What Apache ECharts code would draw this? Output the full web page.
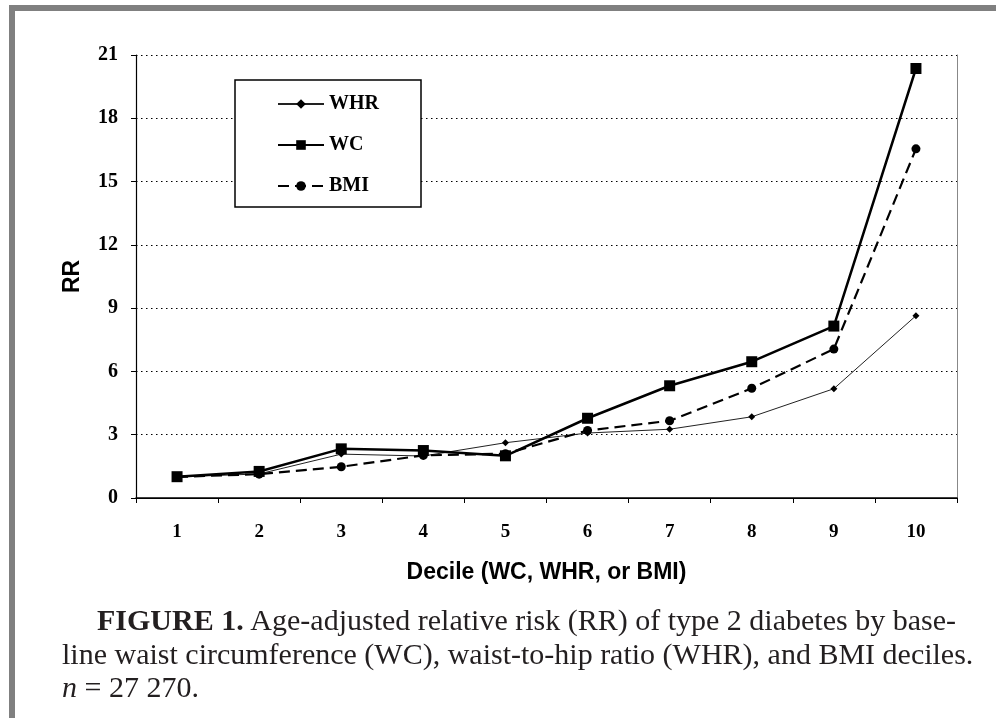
<!DOCTYPE html>
<html>
<head>
<meta charset="utf-8">
<script src="https://cdn.jsdelivr.net/npm/echarts@6/dist/echarts.min.js"></script>
<style>
html,body{margin:0;padding:0;background:#fff;}
#chart{width:996px;height:718px;}
</style>
</head>
<body>
<div id="chart"></div>
<script>
// ---- data ----
const deciles = ['1','2','3','4','5','6','7','8','9','10'];
const whrRR = [1.0, 1.14, 2.08, 1.99, 2.62, 3.08, 3.26, 3.85, 5.18, 8.64];
const wcRR  = [1.01, 1.26, 2.33, 2.25, 2.0, 3.78, 5.32, 6.46, 8.15, 20.36];
const bmiRR = [1.0, 1.13, 1.48, 2.02, 2.1, 3.2, 3.66, 5.2, 7.06, 16.55];
const yMin = 0, yMax = 21, yStep = 3;
const seriesNames = ['WHR', 'WC', 'BMI'];
const xTitle = 'Decile (WC, WHR, or BMI)';
const yTitle = 'RR';
const captionBold = 'FIGURE 1.';
const captionLine1 = 'Age-adjusted relative risk (RR) of type 2 diabetes by base-';
const captionLine2 = 'line waist circumference (WC), waist-to-hip ratio (WHR), and BMI deciles.';
const captionLine3 = '27 270.';

const chart = echarts.init(document.getElementById('chart'), null, {renderer: 'canvas'});
const serifBold = {fontFamily: 'Liberation Serif', fontWeight: 'bold', color: '#000'};
const capFont = 30;
const capColor = '#231f20';

const option = {
  backgroundColor: '#fff',
  animation: false,
  grid: {left: 136, right: 39, top: 55, bottom: 220, containLabel: false},
  legend: {
    orient: 'vertical',
    left: 235, top: 80,
    data: seriesNames,
    backgroundColor: '#fff',
    borderColor: '#000', borderWidth: 1.5,
    padding: [14, 42, 11, 42],
    itemWidth: 46, itemHeight: 12, itemGap: 21,
    textStyle: Object.assign({fontSize: 20, lineHeight: 20}, serifBold),
    inactiveColor: '#000'
  },
  xAxis: [{
    type: 'category', data: deciles, boundaryGap: true,
    axisLine: {lineStyle: {color: '#000', width: 1.2}},
    axisTick: {show: true, length: 5, lineStyle: {color: '#000'}},
    axisLabel: Object.assign({fontSize: 19, margin: 25}, serifBold),
    name: xTitle, nameLocation: 'middle', nameGap: 63,
    nameTextStyle: {fontFamily: 'Liberation Sans', fontWeight: 'bold', fontSize: 23, color: '#000'},
    splitLine: {show: false}
  }, {
    type: 'category', data: deciles, position: 'top',
    axisLine: {show: true, lineStyle: {color: '#000', width: 1.5}},
    axisTick: {show: false}, axisLabel: {show: false}, splitLine: {show: false}
  }],
  yAxis: [{
    type: 'value', min: yMin, max: yMax, interval: yStep,
    axisLine: {show: true, lineStyle: {color: '#000', width: 1.2}},
    axisTick: {show: true, length: 5, lineStyle: {color: '#000'}},
    axisLabel: Object.assign({fontSize: 20, margin: 18}, serifBold),
    splitLine: {show: true, lineStyle: {color: '#000', width: 1, type: [1.5, 3.5]}},
    name: yTitle, nameLocation: 'middle', nameGap: 52, nameRotate: 90,
    nameTextStyle: {fontFamily: 'Liberation Sans', fontWeight: 'bold', fontSize: 23, color: '#000'}
  }, {
    type: 'value', min: yMin, max: yMax, interval: yStep, position: 'right',
    axisLine: {show: true, lineStyle: {color: '#888', width: 1}},
    axisTick: {show: false}, axisLabel: {show: false}, splitLine: {show: false}
  }],
  series: [{
    name: seriesNames[0], type: 'line', data: whrRR,
    symbol: 'diamond', symbolSize: 7,
    lineStyle: {color: '#222', width: 1},
    itemStyle: {color: '#000'}, z: 3
  }, {
    name: seriesNames[1], type: 'line', data: wcRR,
    symbol: 'rect', symbolSize: 11,
    lineStyle: {color: '#000', width: 2.5},
    itemStyle: {color: '#000'}, z: 4
  }, {
    name: seriesNames[2], type: 'line', data: bmiRR,
    symbol: 'circle', symbolSize: 9,
    lineStyle: {color: '#000', width: 2.2, type: [11, 6]},
    itemStyle: {color: '#000'}, z: 3
  }],
  graphic: [
    {type: 'rect', shape: {x: 9, y: 5, width: 987, height: 6}, style: {fill: '#808080'}, silent: true},
    {type: 'rect', shape: {x: 9, y: 5, width: 6, height: 713}, style: {fill: '#808080'}, silent: true},
    {type: 'text', left: 97, top: 607, style: {
      text: '{b|' + captionBold + '}  {r|' + captionLine1 + '}',
      rich: {
        b: {fontFamily: 'Liberation Serif', fontWeight: 'bold', fontSize: capFont, fill: capColor},
        r: {fontFamily: 'Liberation Serif', fontSize: capFont, fill: capColor}
      }
    }},
    {type: 'text', left: 62, top: 641, style: {
      text: captionLine2, fontFamily: 'Liberation Serif', fontSize: capFont, fill: capColor
    }},
    {type: 'text', left: 62, top: 674, style: {
      text: '{i|n} = ' + captionLine3,
      fontFamily: 'Liberation Serif', fontSize: capFont, fill: capColor,
      rich: {i: {fontFamily: 'Liberation Serif', fontStyle: 'italic', fontSize: capFont, fill: capColor}}
    }}
  ]
};
chart.setOption(option);
</script>
</body>
</html>
